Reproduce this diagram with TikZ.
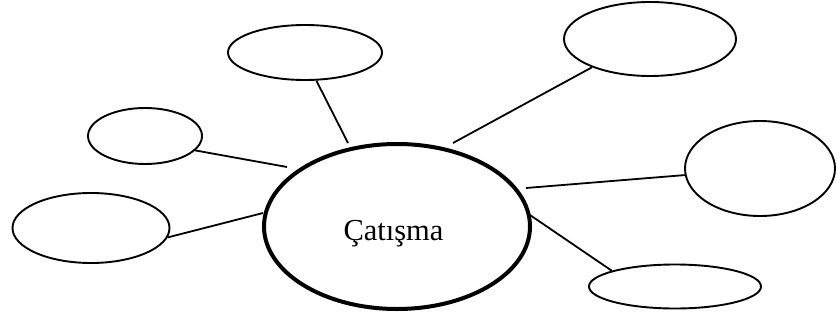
\documentclass[tikz,border=0pt]{standalone}
\usepackage{fontspec}
\setmainfont{Liberation Serif}
\usetikzlibrary{shapes.geometric}
\begin{document}
\begin{tikzpicture}[x=1pt,y=-1pt,
  bubble/.style={draw=black,line width=1.9pt,ellipse,inner sep=0pt,fill=white},
  link/.style={draw=black,line width=1.8pt}]
\useasboundingbox (0,0) rectangle (837,321);
\node[draw=black,line width=4pt,ellipse,inner sep=0pt,minimum width=266pt,minimum height=165pt] (c) at (397,226.5) {};
\node[anchor=base,font=\fontsize{30.5}{36}\selectfont] (t) at (393.5,240) {Çatışma};
\node[bubble,minimum width=154pt,minimum height=55pt] (tm) at (305,52.5) {};
\node[bubble,minimum width=114pt,minimum height=56pt] (ul) at (145,136) {};
\node[bubble,minimum width=157pt,minimum height=70pt] (ll) at (91,228) {};
\node[bubble,minimum width=172pt,minimum height=74pt] (tr) at (650,39) {};
\node[bubble,minimum width=150pt,minimum height=95pt] (r) at (760,168.5) {};
\node[bubble,minimum width=172pt,minimum height=44pt] (br) at (675,286.5) {};
\coordinate (e1) at (348,143);
\coordinate (e2) at (287,167);
\coordinate (e3) at (263,213);
\coordinate (e4) at (453,143);
\coordinate (e5) at (526,188);
\coordinate (e6) at (527,213);
\draw[link] (tm.-68) -- (e1);
\draw[link] (ul.-16) -- (e2);
\draw[link] (ll.-7) -- (e3);
\draw[link] (tr.206) -- (e4);
\draw[link] (r.185) -- (e5);
\draw[link] (br.166) -- (e6);
\end{tikzpicture}
\end{document}
